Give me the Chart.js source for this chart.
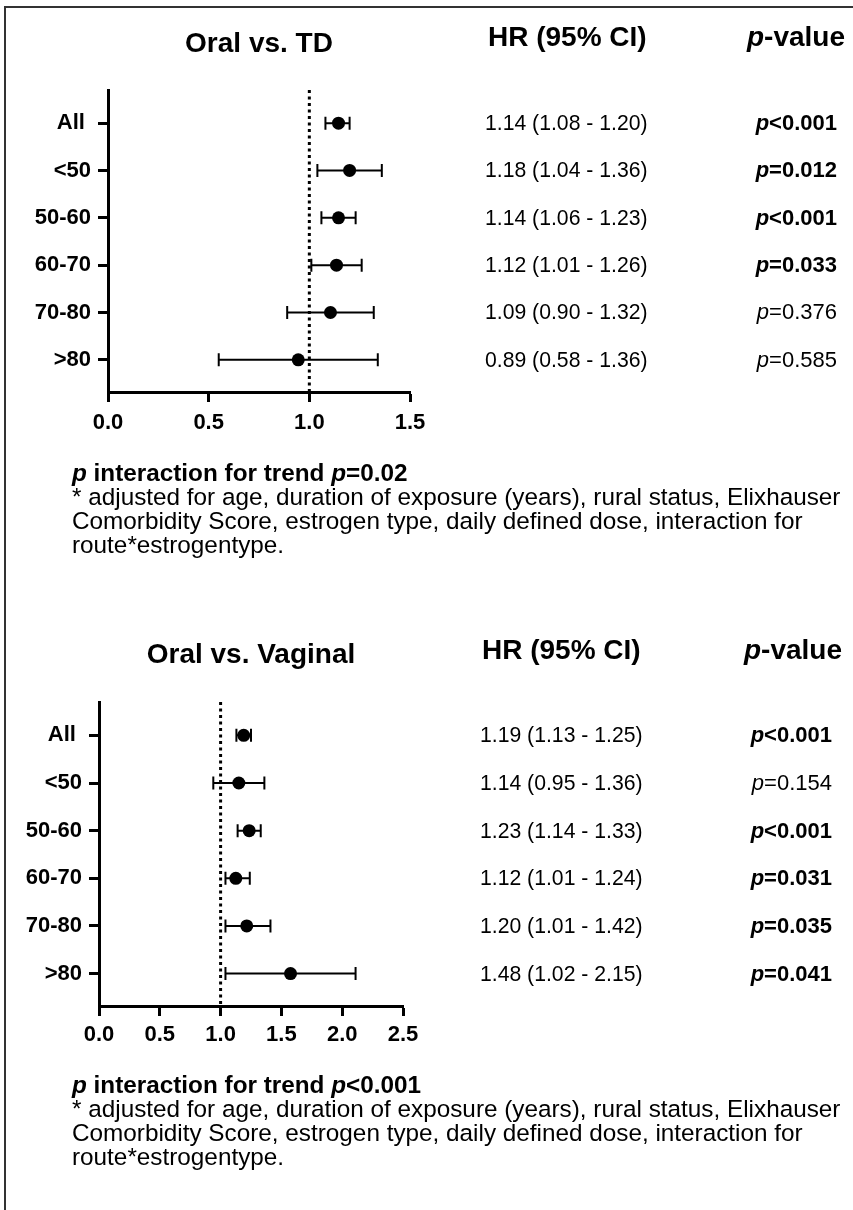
<!DOCTYPE html>
<html><head><meta charset="utf-8">
<script src="https://cdn.jsdelivr.net/npm/chart.js@4.4.1/dist/chart.umd.min.js"></script>
<style>
html,body{margin:0;padding:0;background:#fff;width:853px;height:1210px;overflow:hidden;}
body{position:relative;font-family:"Liberation Sans",Arial,Helvetica,sans-serif;color:#000;}
#frame{position:absolute;left:4px;top:6px;width:900px;height:1300px;border-left:2px solid #333;border-top:2px solid #333;}
.t{position:absolute;white-space:nowrap;}
canvas{position:absolute;left:0;}
.hd{font-weight:bold;font-size:28px;line-height:32px;}
.row{font-size:21.2px;line-height:24px;}
.pv{font-size:22px;line-height:24px;}
.note{font-size:24.3px;line-height:24px;}
</style></head><body>
<div id="frame"></div>
<canvas id="c1" width="853" height="605" style="top:0px"></canvas>
<canvas id="c2" width="853" height="605" style="top:605px"></canvas>
<div id="txt"></div>
<script>
// ---------- data ----------
const rowLabels = ["All ", "<50", "50-60", "60-70", "70-80", ">80"];

// Oral vs. TD
const tdPlotHR = [1.145, 1.20, 1.145, 1.135, 1.105, 0.945];
const tdLo     = [1.08, 1.04, 1.06, 1.01, 0.89, 0.55];
const tdHi     = [1.20, 1.36, 1.23, 1.26, 1.32, 1.34];
const tdHRText = ["1.14 (1.08 - 1.20)", "1.18 (1.04 - 1.36)", "1.14 (1.06 - 1.23)", "1.12 (1.01 - 1.26)", "1.09 (0.90 - 1.32)", "0.89 (0.58 - 1.36)"];
const tdPText  = ["<0.001", "=0.012", "<0.001", "=0.033", "=0.376", "=0.585"];
const tdSig    = [true, true, true, true, false, false];
const tdTicks  = [0, 0.5, 1.0, 1.5];

// Oral vs. Vaginal
const vgPlotHR = [1.19, 1.15, 1.235, 1.125, 1.215, 1.575];
const vgLo     = [1.13, 0.94, 1.14, 1.04, 1.04, 1.04];
const vgHi     = [1.25, 1.36, 1.33, 1.24, 1.41, 2.11];
const vgHRText = ["1.19 (1.13 - 1.25)", "1.14 (0.95 - 1.36)", "1.23 (1.14 - 1.33)", "1.12 (1.01 - 1.24)", "1.20 (1.01 - 1.42)", "1.48 (1.02 - 2.15)"];
const vgPText  = ["<0.001", "=0.154", "<0.001", "=0.031", "=0.035", "=0.041"];
const vgSig    = [true, false, true, true, true, true];
const vgTicks  = [0, 0.5, 1.0, 1.5, 2.0, 2.5];

const refLine = 1.0;
const Y_MIN = 0.3, Y_MAX = 6.68;
const FONT = '"Liberation Sans", Arial, Helvetica, sans-serif';

function makePanel(cfg) {
  const H = 605;
  const errPlugin = {
    id: 'errbars_' + cfg.id,
    beforeDatasetsDraw(chart) {
      const ctx = chart.ctx, x = chart.scales.x, y = chart.scales.y;
      ctx.save();
      ctx.strokeStyle = '#000';
      ctx.lineWidth = 2;
      cfg.lo.forEach((lo, i) => {
        const yy = y.getPixelForValue(i + 1);
        const x1 = x.getPixelForValue(lo), x2 = x.getPixelForValue(cfg.hi[i]);
        ctx.beginPath();
        ctx.moveTo(x1, yy); ctx.lineTo(x2, yy);
        ctx.moveTo(x1, yy - 6.5); ctx.lineTo(x1, yy + 6.5);
        ctx.moveTo(x2, yy - 6.5); ctx.lineTo(x2, yy + 6.5);
        ctx.stroke();
      });
      ctx.restore();
    }
  };
  const tickFont = {family: FONT, size: 22, weight: 'bold'};
  const axisCommon = {
    grid: {drawOnChartArea: false, drawTicks: true, tickLength: 10, tickWidth: 3, tickColor: '#000'},
    border: {display: true, width: 3, color: '#000'}
  };
  return new Chart(document.getElementById(cfg.id), {
    type: 'scatter',
    data: {
      datasets: [
        {type: 'line', data: [{x: refLine, y: Y_MIN}, {x: refLine, y: Y_MAX}], borderColor: '#000',
         borderWidth: 3, borderDash: [3, 3.5], pointRadius: 0, order: 2},
        {data: cfg.hr.map((v, i) => ({x: v, y: i + 1})), pointRadius: 6.5, pointHoverRadius: 6.5,
         pointBackgroundColor: '#000', pointBorderColor: '#000', pointBorderWidth: 0, order: 1}
      ]
    },
    options: {
      responsive: false, animation: false, devicePixelRatio: 1,
      layout: {padding: {left: 0, top: cfg.top, right: 853 - cfg.right, bottom: H - cfg.bottom - 50}},
      plugins: {legend: {display: false}, tooltip: {enabled: false}, title: {display: false}},
      scales: {
        x: Object.assign({}, axisCommon, {
          type: 'linear', min: 0, max: cfg.ticks[cfg.ticks.length - 1],
          afterBuildTicks: s => { s.ticks = cfg.ticks.map(v => ({value: v})); },
          afterFit: s => { s.height = 50; },
          ticks: {callback: v => Number(v).toFixed(1), font: tickFont, color: '#000', padding: cfg.xpad, maxRotation: 0, autoSkip: false}
        }),
        y: Object.assign({}, axisCommon, {
          type: 'linear', reverse: true, min: Y_MIN, max: Y_MAX,
          afterBuildTicks: s => { s.ticks = rowLabels.map((_, i) => ({value: i + 1})); },
          afterFit: s => { s.width = cfg.left; },
          ticks: {callback: v => rowLabels[Math.round(v) - 1], font: tickFont, color: '#000', padding: 7, autoSkip: false}
        })
      }
    },
    plugins: [errPlugin]
  });
}

const txt = document.getElementById('txt');
function addDiv(cls, html, style) {
  const d = document.createElement('div');
  d.className = 't ' + cls;
  d.innerHTML = html;
  Object.assign(d.style, style);
  txt.appendChild(d);
  return d;
}
function pHtml(s, sig) {
  const inner = '<i>p</i>' + s.replace('<', '&lt;');
  return sig ? '<b>' + inner + '</b>' : inner;
}

function panelText(chart, off, p) {
  const ca = chart.chartArea;
  const cx = (ca.left + ca.right) / 2;
  addDiv('hd', p.title, {left: cx + 'px', top: (off + p.titleY - 16) + 'px', transform: 'translateX(-50%)'});
  addDiv('hd', 'HR (95% CI)', {left: p.hrHeadX + 'px', top: (p.headY - 16) + 'px'});
  addDiv('hd', '<i>p</i>-value', {right: (853 - p.pHeadR) + 'px', top: (p.headY - 16) + 'px'});
  p.hrText.forEach((s, i) => {
    const y = off + chart.scales.y.getPixelForValue(i + 1);
    addDiv('row', s, {left: p.hrX + 'px', top: (y - 12) + 'px'});
    addDiv('pv', pHtml(p.pText[i], p.sig[i]), {right: (853 - p.pR) + 'px', top: (y - 12) + 'px', textAlign: 'right'});
  });
  addDiv('note', '<b><i>p</i> interaction for trend <i>p</i>' + p.trend.replace('<', '&lt;') + '</b><br>' +
    '* adjusted for age, duration of exposure (years), rural status, Elixhauser<br>' +
    'Comorbidity Score, estrogen type, daily defined dose, interaction for<br>' +
    'route*estrogentype.', {left: '72px', top: (p.noteY - 12) + 'px'});
}

const c1 = makePanel({id: 'c1', hr: tdPlotHR, lo: tdLo, hi: tdHi, ticks: tdTicks, left: 108, right: 410, top: 90, bottom: 392, xpad: 8});
const c2 = makePanel({id: 'c2', hr: vgPlotHR, lo: vgLo, hi: vgHi, ticks: vgTicks, left: 99, right: 403, top: 97, bottom: 401, xpad: 6});

panelText(c1, 0, {title: 'Oral vs. TD', titleY: 43, headY: 37, hrHeadX: 488, pHeadR: 845, hrX: 485, pR: 837,
  hrText: tdHRText, pText: tdPText, sig: tdSig, trend: '=0.02', noteY: 473});
panelText(c2, 605, {title: 'Oral vs. Vaginal', titleY: 49, headY: 650, hrHeadX: 482, pHeadR: 842, hrX: 480, pR: 832,
  hrText: vgHRText, pText: vgPText, sig: vgSig, trend: '<0.001', noteY: 1085});
</script>
</body></html>
